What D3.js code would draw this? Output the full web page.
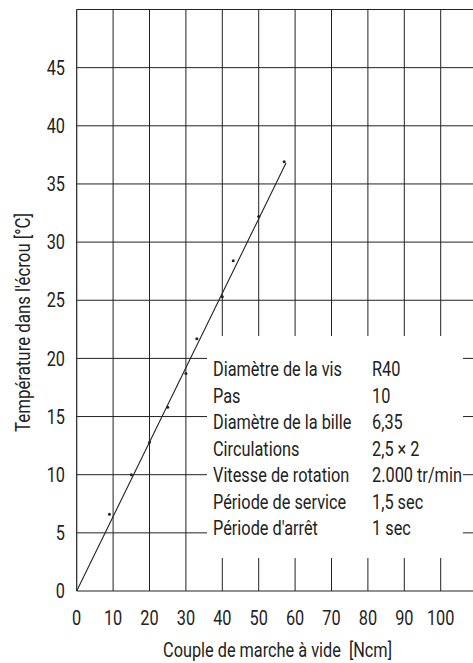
<!DOCTYPE html>
<html>
<head>
<meta charset="utf-8">
<script src="https://cdn.jsdelivr.net/npm/d3@7"></script>
<style>
  html, body { margin: 0; padding: 0; background: #fff; }
  svg text { font-family: Roboto, "Liberation Sans", sans-serif; fill: #222; white-space: pre; }
</style>
</head>
<body>
<svg id="chart" width="473" height="663"></svg>
<script>
// ---- data ----
const xTicks = [0, 10, 20, 30, 40, 50, 60, 70, 80, 90, 100];
const yTicks = [0, 5, 10, 15, 20, 25, 30, 35, 40, 45];
const pointsX = [9, 15, 20, 25, 30, 33, 40, 43, 50, 57];
const pointsY = [6.6, 10.0, 12.8, 15.8, 18.7, 21.7, 25.3, 28.4, 32.2, 36.9];
const fitX = [0, 57.5];
const fitY = [0, 36.8];
const specLabels = ["Diamètre de la vis", "Pas", "Diamètre de la bille", "Circulations", "Vitesse de rotation", "Période de service", "Période d'arrêt"];
const specValues = ["R40", "10", "6,35", "2,5 × 2", "2.000 tr/min", "1,5 sec", "1 sec"];
const xTitle = "Couple de marche à vide  [Ncm]";
const yTitle = "Température dans l'écrou [°C]";

// ---- layout ----
const pLeft = 76.7, pRight = 473, pTop = 9.5, pBottom = 591;
const x = d3.scaleLinear().domain([0, 100]).range([pLeft, 440.7]);
const y = d3.scaleLinear().domain([0, 50]).range([pBottom, pTop]);
const ink = "#222";
const FS = 20;
const svg = d3.select("#chart");

function measure(str) {
  const p = svg.append("text").attr("font-size", FS).text(str);
  const w = p.node().getComputedTextLength();
  p.remove();
  return w;
}
// condensing factor so the regular font mimics the condensed face
const sx = 129 / measure(specLabels[0]);

function label(parent, px, py, str, anchor, rot, scale) {
  return parent.append("text")
    .attr("transform", `translate(${px},${py})` + (rot ? ` rotate(${rot})` : "") + ` scale(${scale || sx},1)`)
    .attr("text-anchor", anchor || "start")
    .attr("font-size", FS)
    .text(str);
}

// grid
const g = svg.append("g").attr("stroke", ink).attr("stroke-width", 1);
g.selectAll("line.v").data(xTicks.filter(d => d > 0)).enter().append("line")
  .attr("class", "v").attr("x1", d => x(d)).attr("x2", d => x(d)).attr("y1", pTop).attr("y2", pBottom);
g.selectAll("line.h").data(yTicks.filter(d => d > 0).concat([50])).enter().append("line")
  .attr("class", "h").attr("x1", pLeft).attr("x2", pRight).attr("y1", d => y(d)).attr("y2", d => y(d));

// spec table mask
svg.append("rect").attr("x", 207).attr("y", 336).attr("width", 463 - 207).attr("height", 558 - 336).attr("fill", "#fff");

// axes lines
svg.append("line").attr("x1", pLeft).attr("x2", pLeft).attr("y1", pTop).attr("y2", pBottom).attr("stroke", ink).attr("stroke-width", 1.2);
svg.append("line").attr("x1", pLeft).attr("x2", pRight).attr("y1", pBottom).attr("y2", pBottom).attr("stroke", ink).attr("stroke-width", 1.2);

// tick labels
yTicks.forEach(d => label(svg, 65, y(d) + 7.2, String(d), "end"));
xTicks.forEach(d => label(svg, x(d), 625, String(d), "middle"));

// titles
label(svg, 277.5, 656.5, xTitle, "middle", 0, 229 / measure(xTitle));
label(svg, 30, 322.5, yTitle, "middle", -90, 219 / measure(yTitle));

// fit line
const line = d3.line().x(d => x(d[0])).y(d => y(d[1]));
svg.append("path").datum(fitX.map((v, i) => [v, fitY[i]])).attr("d", line)
  .attr("fill", "none").attr("stroke", ink).attr("stroke-width", 1.1);

// points
svg.selectAll("circle.p").data(pointsX.map((v, i) => [v, pointsY[i]])).enter().append("circle")
  .attr("class", "p").attr("cx", d => x(d[0])).attr("cy", d => y(d[1])).attr("r", 1.5).attr("fill", ink);

// spec table text
const rowY = i => 376 + i * 26.5;
specLabels.forEach((s, i) => label(svg, 213, rowY(i), s, "start"));
specValues.forEach((s, i) => label(svg, 372, rowY(i), s, "start"));
</script>
</body>
</html>
